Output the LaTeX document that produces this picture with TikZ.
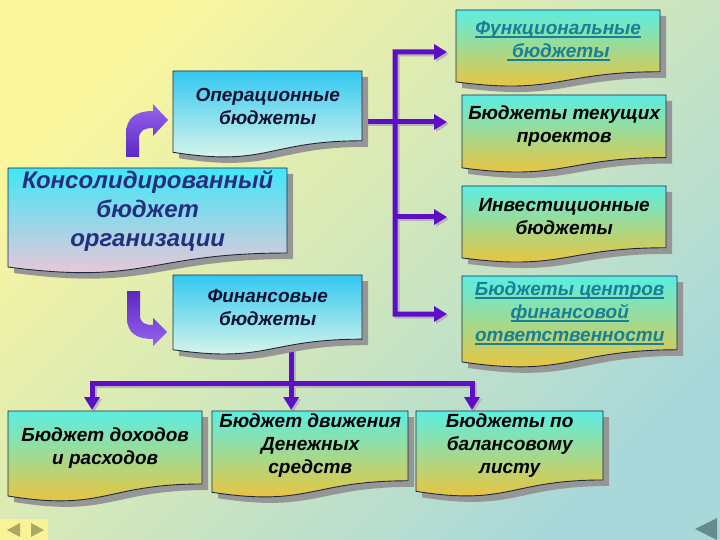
\documentclass[tikz,border=0pt]{standalone}
\usepackage{fontspec}
\setmainfont{Liberation Sans}
\usetikzlibrary{arrows.meta,calc}
\pgfdeclarelayer{back}
\pgfdeclarelayer{conn}
\pgfsetlayers{back,conn,main}
\definecolor{bgY}{RGB}{250,246,158}
\definecolor{bgM}{RGB}{232,240,180}
\definecolor{bgT}{RGB}{168,216,218}
\definecolor{purp}{RGB}{94,14,196}
\definecolor{shadowc}{RGB}{150,150,150}
\definecolor{bordc}{RGB}{26,40,64}
\definecolor{cyT}{RGB}{90,238,226}
\definecolor{cyM}{RGB}{236,238,150}
\definecolor{orB}{RGB}{250,192,44}
\definecolor{blT}{RGB}{50,200,242}
\definecolor{blM}{RGB}{150,228,240}
\definecolor{blB}{RGB}{234,250,232}
\definecolor{pkT}{RGB}{64,230,248}
\definecolor{pkM}{RGB}{200,226,240}
\definecolor{pkB}{RGB}{252,196,212}
\definecolor{tealtxt}{RGB}{22,128,152}
\definecolor{navytxt}{RGB}{38,46,126}
\definecolor{arL}{RGB}{150,100,236}
\definecolor{arD}{RGB}{90,40,196}
\newcommand\myul[1]{\setbox0\hbox{#1}\rlap{\raisebox{-3.5pt}{\rule{\wd0}{1.6pt}}}\box0}
\newcommand\docbox[8]{%
  \fill[shadowc] ({#2+6},{#3+6}) -- ++(#4,0) -- ++(0,{0.802*#5})
     .. controls +({-0.5*#4},0) and ({#2+6+0.5*#4},{#3+6+1.1075*#5}) .. ({#2+6},{#3+6+0.934*#5}) -- cycle;
  \shadedraw[#6, draw=bordc, line width=0.9pt] (#2,#3) -- ++(#4,0) -- ++(0,{0.802*#5})
     .. controls +({-0.5*#4},0) and ({#2+0.5*#4},{#3+1.1075*#5}) .. (#2,{#3+0.934*#5}) -- cycle;
  \node[boxtext, #7, minimum width=#4pt, minimum height=0.8*#5pt, anchor=north west] (#1) at (#2,#3) {#8};
}
\tikzset{
  boxtext/.style={inner sep=0pt, align=center, font=\fontsize{19}{23}\selectfont\bfseries\itshape, text=black},
  warm/.style={top color=cyT, middle color=cyM, bottom color=orB},
  cool/.style={top color=blT, middle color=blM, bottom color=blB},
  pink/.style={top color=pkT, middle color=pkM, bottom color=pkB},
  conn/.style={line width=5pt, draw=purp, line join=miter},
  connshadow/.style={line width=5pt, draw=shadowc!70, line join=miter, transform canvas={shift={(2pt,-2pt)}}},
  tip/.tip={Triangle[length=13pt,width=15pt]},
}
\begin{document}
\begin{tikzpicture}[x=1pt,y=-1pt]
\useasboundingbox (0,0) rectangle (720,540);
\begin{pgfonlayer}{back}
\shade[top color=bgY, middle color=bgM, bottom color=bgT, shading angle=45] (0,0) rectangle (720,540);
\end{pgfonlayer}

% boxes
\docbox{b1}{456}{10}{204}{77}{warm}{text=tealtxt}{\myul{Функциональные}\\\myul{\ бюджеты}}
\docbox{b2}{462}{95}{204}{78}{warm}{}{Бюджеты текущих\\проектов}
\docbox{b3}{462}{186}{204}{77}{warm}{}{Инвестиционные\\бюджеты}
\docbox{b4}{462}{276}{215}{92}{warm}{text=tealtxt}{\myul{Бюджеты центров}\\\myul{финансовой}\\\myul{ответственности}}
\docbox{op}{173}{71}{189}{87}{cool}{text=navytxt!40!black}{Операционные\\бюджеты}
\docbox{cons}{8}{168}{279}{106}{pink}{text=navytxt, font=\fontsize{24}{29}\selectfont\bfseries\itshape}{Консолидированный\\бюджет\\организации}
\docbox{fin}{173}{275}{189}{80}{cool}{text=navytxt!40!black}{Финансовые\\бюджеты}
\docbox{b5}{8}{411}{194}{91}{warm}{}{Бюджет доходов\\и расходов}
\docbox{b6}{212}{411}{196}{87}{warm}{}{Бюджет движения\\Денежных\\средств}
\docbox{b7}{416}{411}{187}{86}{warm}{}{Бюджеты по\\балансовому\\листу}

% connectors
\begin{pgfonlayer}{conn}
\coordinate (t1) at (395,52);
\coordinate (t4) at (395,314);
\coordinate (tipx) at (447,0);
\coordinate (fb) at ($(fin.south)+(23.5,0)$);
\coordinate (jl) at (92,383);
\coordinate (jr) at (472,383);
\foreach \st in {connshadow,conn}{
  \draw[\st,{tip}-{tip}] ($(tipx |- b1.west)+(0,11)$) -- (t1) -- (t4) -- (tipx |- t4);
  \draw[\st,-{tip}] ($(op.east)+(0,16)$) -- ($(op.east -| tipx)+(0,16)$);
  \draw[\st,-{tip}] (t1 |- b3.west) -- (tipx |- b3.west);
  \draw[\st,-{tip}] (fb) -- ($(fb |- b6.north)+(0,-1)$);
  \draw[\st,{tip}-{tip}] ($(jl |- b5.north)+(0,-1)$) -- (jl) -- (jr) -- ($(jr |- b7.north)+(0,-1)$);
}
\end{pgfonlayer}

% curved arrows
\shade[top color=arL, bottom color=arD]
  (126,157) -- (126,134) .. controls (126,117) and (137,111) .. (153,111) -- (153,104)
  -- (168,120) -- (153,136) -- (153,128) .. controls (145,128) and (139,130) .. (139,139) -- (139,157) -- cycle;
\shade[top color=arD, bottom color=arL]
  (127,291) -- (127,318) .. controls (127,334) and (138,339) .. (153,339) -- (153,346)
  -- (167,332) -- (153,318) -- (153,325) .. controls (145,325) and (140,323) .. (140,315) -- (140,291) -- cycle;

% navigation
\fill[color={rgb,255:red,250;green,242;blue,150}] (0,519) rectangle (48,540);
\fill[color={rgb,255:red,168;green,170;blue,100}] (7,530) -- (20,523) -- (20,537) -- cycle;
\fill[color={rgb,255:red,168;green,170;blue,100}] (44,530) -- (31,523) -- (31,537) -- cycle;
\fill[color={rgb,255:red,100;green,140;blue,140}] (695,529) -- (717,518) -- (717,540) -- cycle;
\end{tikzpicture}
\end{document}
